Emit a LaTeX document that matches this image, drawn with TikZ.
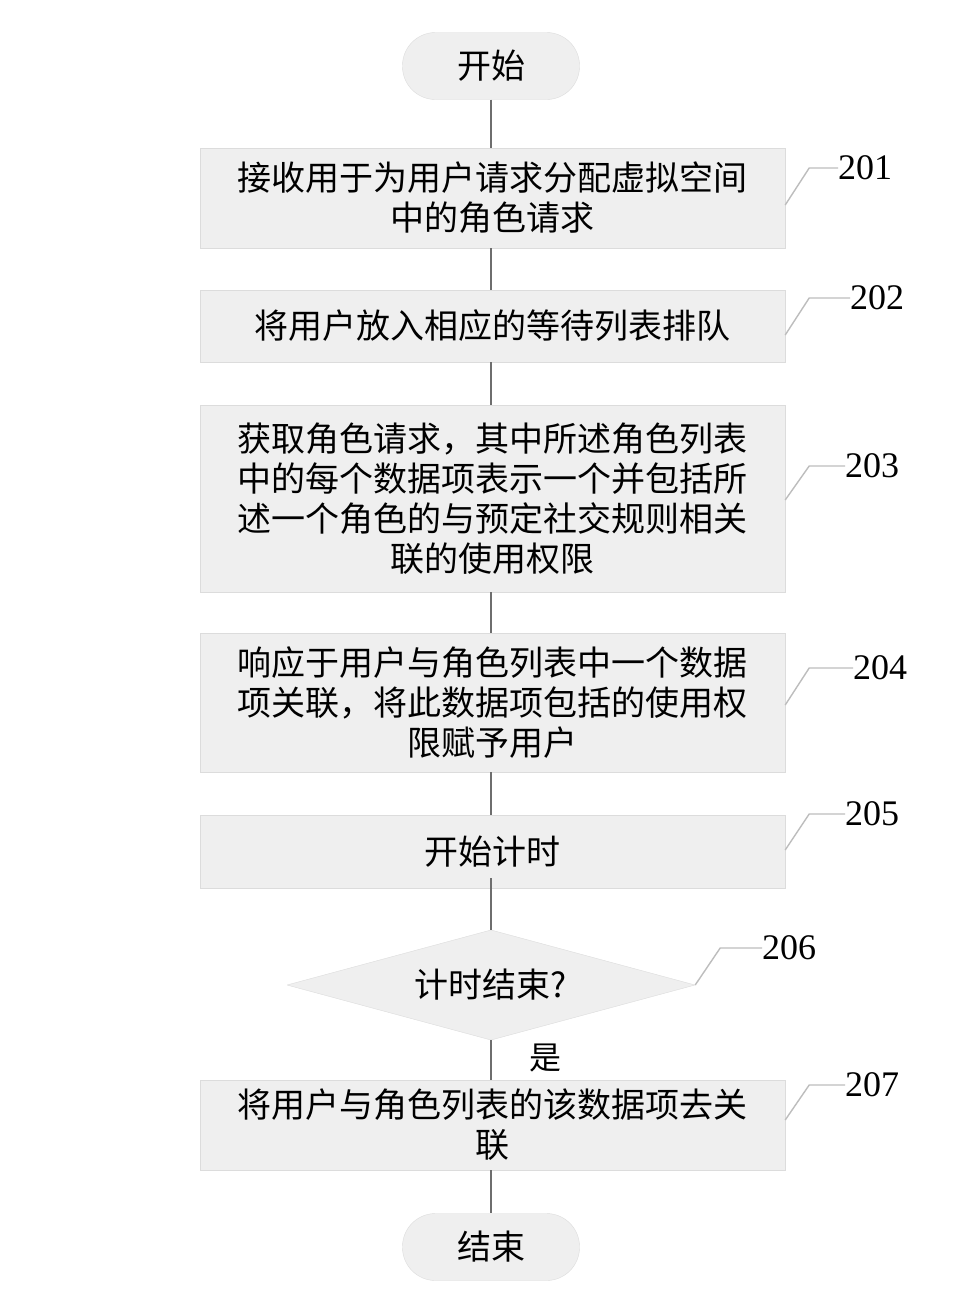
\documentclass[tikz,border=0pt]{standalone}
\usepackage{fontspec}
\setmainfont{Liberation Serif}
\newfontfamily\cjk{Noto Sans CJK SC}
\usepackage{xcolor}
\definecolor{boxfill}{HTML}{EFEFEF}
\definecolor{boxedge}{HTML}{DCDCDC}
\definecolor{flowline}{HTML}{6E6E6E}
\definecolor{leadline}{HTML}{BDBDBD}

\begin{document}
\begin{tikzpicture}[x=1pt, y=-1pt,
    stepbox/.style={draw=boxedge, fill=boxfill, minimum width=585pt, text width=560pt,
      align=center, inner sep=0pt, font=\cjk\fontsize{34}{40}\selectfont},
    terminal/.style={draw=boxedge, fill=boxfill, rounded corners=33pt, minimum width=177pt,
      minimum height=67pt, font=\cjk\fontsize{34}{40}\selectfont},
    decision/.style={minimum width=408pt, minimum height=110pt, inner sep=0pt,
      font=\cjk\fontsize{34}{40}\selectfont,
      path picture={\filldraw[draw=boxedge, fill=boxfill]
        (path picture bounding box.north) -- (path picture bounding box.east)
        -- (path picture bounding box.south) -- (path picture bounding box.west) -- cycle;}},
    flow/.style={draw=flowline, line width=1.6pt},
    leader/.style={draw=leadline, line width=1.4pt},
    stepnum/.style={font=\fontsize{36}{40}\selectfont, anchor=west, inner sep=0pt}]
  \fill[white] (0,0) rectangle (976,1302);

  % flow nodes
  \node[terminal] (start) at (491,66) {开始};
  \node[stepbox, minimum height=100pt] (s201) at (492.5,198) {接收用于为用户请求分配虚拟空间\\中的角色请求};
  \node[stepbox, minimum height=72pt]  (s202) at (492.5,326) {将用户放入相应的等待列表排队};
  \node[stepbox, minimum height=187pt] (s203) at (492.5,498.5) {获取角色请求，其中所述角色列表\\中的每个数据项表示一个并包括所\\述一个角色的与预定社交规则相关\\联的使用权限};
  \node[stepbox, minimum height=139pt] (s204) at (492.5,702.5) {响应于用户与角色列表中一个数据\\项关联，将此数据项包括的使用权\\限赋予用户};
  \node[stepbox, minimum height=73pt]  (s205) at (492.5,851.5) {开始计时};
  \node[decision] (s206) at (491,985) {计时结束?};
  \node[font=\cjk\fontsize{32}{36}\selectfont, inner sep=0pt] (yes) at (545,1058) {是};
  \node[stepbox, minimum height=90pt]  (s207) at (492.5,1125) {将用户与角色列表的该数据项去关\\联};
  \node[terminal] (stop) at (491,1247) {结束};

  % connectors
  \draw[flow] (start.south) -- (start.south |- s201.north);
  \draw[flow] (s201.south -| start) -- (s202.north -| start);
  \draw[flow] (s202.south -| start) -- (s203.north -| start);
  \draw[flow] (s203.south -| start) -- (s204.north -| start);
  \draw[flow] (s204.south -| start) -- (s205.north -| start);
  \draw[flow] ([yshift=10pt]s205.south -| start) -- (s206.north);
  \draw[flow] (s206.south) -- (s207.north -| start);
  \draw[flow] (s207.south -| start) -- (stop.north);

  % step numbers
  \foreach \s/\ya/\yb/\xl in {201/205/168/838, 202/335/298/850, 203/500/466/845,
                              204/705/668/853, 205/850/814/845, 207/1120/1085/845}{
    \node[stepnum] (n\s) at (\xl,\yb) {\s};
    \draw[leader] (s\s.east |- 0,\ya) -- ++(24,\yb-\ya) -- (n\s.west);
  }
  \node[stepnum] (n206) at (762,948) {206};
  \draw[leader] (s206.east) -- ++(25,-37) -- (n206.west);
\end{tikzpicture}
\end{document}
